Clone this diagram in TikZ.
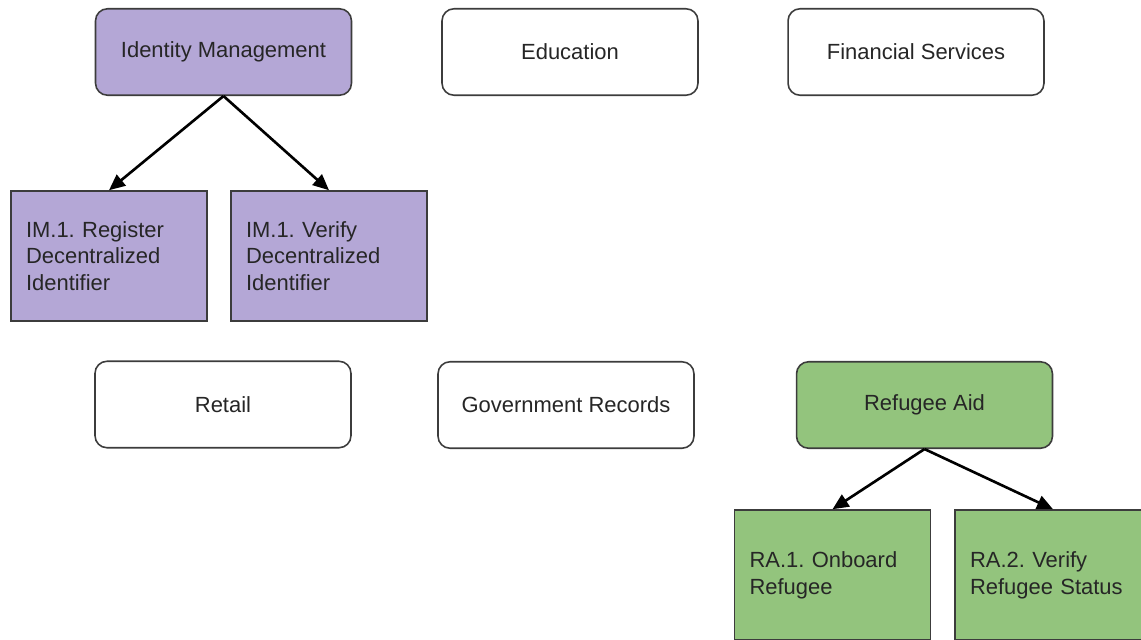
\documentclass[tikz,border=0pt]{standalone}
\usepackage{fontspec}
\setmainfont{Liberation Sans}
\frenchspacing
\usetikzlibrary{arrows.meta}
\definecolor{imfill}{HTML}{B4A7D6}
\definecolor{rafill}{HTML}{93C47D}
\definecolor{boxline}{HTML}{3C3C3C}
\tikzset{
  area/.style={draw=boxline, line width=0.9pt, rounded corners=0.24cm,
    minimum width=5.12cm, minimum height=1.73cm, text=black!85,
    font=\fontsize{12.5}{15.2}\selectfont},
  usecase/.style={draw=boxline, line width=0.9pt, minimum width=3.92cm,
    minimum height=2.6cm, inner xsep=0.3cm, text width=3.32cm, align=left,
    text=black!85, font=\fontsize{12.5}{15.2}\selectfont},
  link/.style={-{Triangle[length=0.32cm,width=0.28cm]}, line width=1.5pt}
}
\begin{document}
\begin{tikzpicture}[x=0.02cm, y=-0.02cm]
    \clip (0,0) rectangle (1141,639);
    \fill[white] (0,0) rectangle (1141,639);
    % top row
    \node[area, fill=imfill] (idm) at (223.5,52) {Identity Management};
    \node[area] (edu) at (570,52) {Education};
    \node[area] (fin) at (916,52) {Financial Services};
    \node[usecase, fill=imfill] (imreg) at (109,256) {IM.1. Register\\Decentralized\\Identifier};
    \node[usecase, fill=imfill] (imver) at (329,256) {IM.1. Verify\\Decentralized\\Identifier};
    % bottom row
    \node[area] (retail) at (223,404.5) {Retail};
    \node[area] (gov) at (566,405) {Government Records};
    \node[area, fill=rafill] (refaid) at (924.5,405) {Refugee Aid};
    \node[usecase, fill=rafill] (raon) at (832.5,575) {RA.1. Onboard\\Refugee};
    \node[usecase, fill=rafill] (rastat) at (1053,575) {RA.2. Verify\\Refugee Status};
    \draw[link] (idm.south) -- (imreg.north);
    \draw[link] (idm.south) -- (imver.north);
    \draw[link] (refaid.south) -- (raon.north);
    \draw[link] (refaid.south) -- (rastat.north);
\end{tikzpicture}
\end{document}
